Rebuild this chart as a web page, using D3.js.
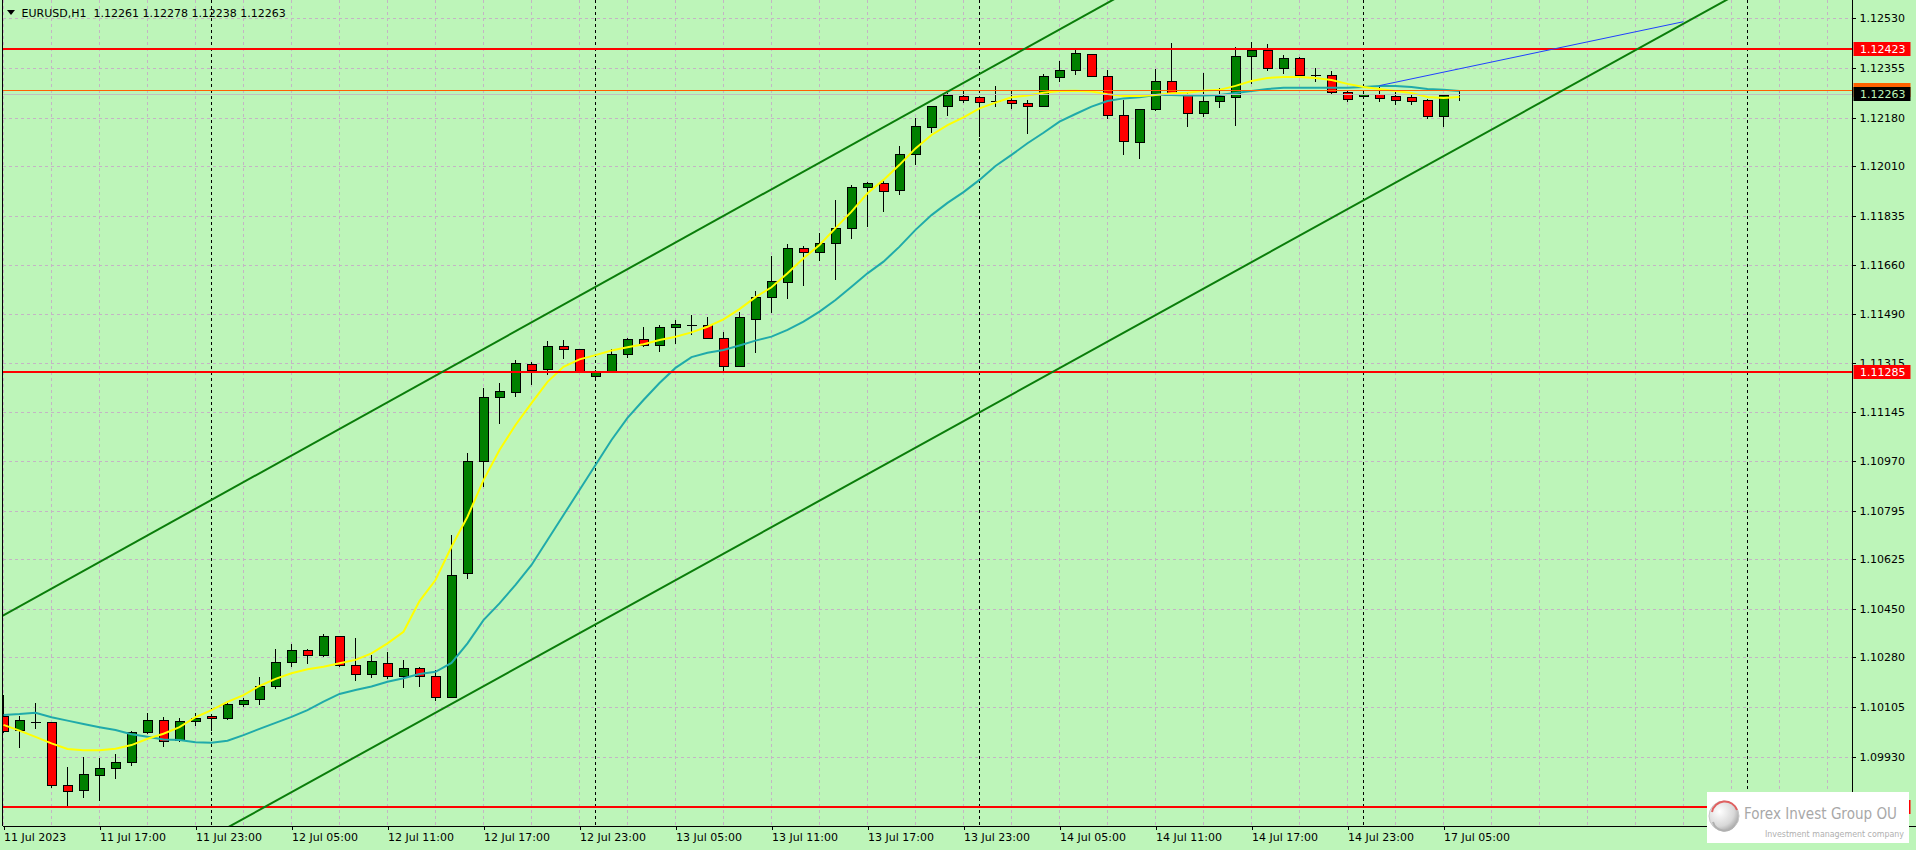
<!DOCTYPE html>
<html><head><meta charset="utf-8">
<script src="https://cdn.jsdelivr.net/npm/d3@7"></script>
<style>
html,body{margin:0;padding:0;background:#bdf5b9;overflow:hidden}
svg{display:block}
text{font-family:"DejaVu Sans",Verdana,sans-serif}
</style></head><body>
<svg id="c" width="1916" height="850"></svg>
<script>
// ---------- data ----------
const symbol = "EURUSD,H1";
const days = [["11 Jul",11,23],["12 Jul",0,23],["13 Jul",0,23],["14 Jul",0,23],["17 Jul",0,23],["18 Jul",0,8]];
const opens = [1.10073,1.10023,1.10053,1.10051,1.09827,1.09810,1.09865,1.09889,1.09910,1.10016,
1.10058,1.09986,1.10055,1.10072,1.10065,1.10115,1.10132,1.10178,1.10262,1.10305,
1.10286,1.10354,1.10252,1.10220,1.10259,1.10213,1.10241,1.10213,1.10139,1.10576,
1.10970,1.11196,1.11213,1.11312,1.11293,1.11375,1.11364,1.11269,1.11285,1.11347,
1.11400,1.11379,1.11442,1.11451,1.11449,1.11403,1.11303,1.11470,1.11548,1.11600,
1.11720,1.11706,1.11738,1.11791,1.11935,1.11948,1.11924,1.12051,1.12146,1.12220,
1.12255,1.12252,1.12239,1.12241,1.12231,1.12220,1.12322,1.12347,1.12403,1.12326,
1.12188,1.12093,1.12208,1.12308,1.12262,1.12194,1.12238,1.12252,1.12395,1.12418,
1.12352,1.12388,1.12332,1.12330,1.12270,1.12255,1.12262,1.12255,1.12250,1.12240,
1.12183,1.12261];
const highs = [1.10147,1.10073,1.10120,1.10053,1.09894,1.09930,1.09925,1.09940,1.10021,1.10084,
1.10069,1.10065,1.10084,1.10072,1.10118,1.10136,1.10210,1.10308,1.10327,1.10310,
1.10362,1.10354,1.10347,1.10289,1.10298,1.10271,1.10245,1.10236,1.10711,1.10998,
1.11227,1.11245,1.11327,1.11320,1.11393,1.11396,1.11366,1.11292,1.11366,1.11405,
1.11442,1.11449,1.11467,1.11484,1.11477,1.11424,1.11495,1.11569,1.11693,1.11735,
1.11729,1.11773,1.11890,1.11942,1.11954,1.11961,1.12079,1.12178,1.12222,1.12266,
1.12275,1.12255,1.12292,1.12278,1.12242,1.12333,1.12379,1.12422,1.12405,1.12347,
1.12241,1.12212,1.12351,1.12442,1.12270,1.12338,1.12285,1.12430,1.12445,1.12440,
1.12400,1.12395,1.12355,1.12345,1.12275,1.12275,1.12290,1.12270,1.12262,1.12245,
1.12265,1.12278];
const lows = [1.10015,1.09962,1.10028,1.09821,1.09756,1.09785,1.09774,1.09853,1.09898,1.10009,
1.09965,1.09981,1.10038,1.10021,1.10060,1.10104,1.10113,1.10169,1.10245,1.10257,
1.10282,1.10247,1.10198,1.10207,1.10204,1.10173,1.10177,1.10127,1.10135,1.10555,
1.10881,1.11100,1.11198,1.11240,1.11273,1.11329,1.11281,1.11262,1.11280,1.11335,
1.11372,1.11356,1.11384,1.11416,1.11400,1.11289,1.11302,1.11353,1.11493,1.11543,
1.11588,1.11675,1.11609,1.11754,1.11796,1.11849,1.11909,1.12013,1.12125,1.12187,
1.12233,1.12113,1.12219,1.12211,1.12124,1.12217,1.12305,1.12329,1.12322,1.12176,
1.12050,1.12034,1.12205,1.12258,1.12148,1.12183,1.12215,1.12150,1.12300,1.12345,
1.12335,1.12320,1.12305,1.12262,1.12236,1.12245,1.12236,1.12225,1.12226,1.12175,
1.12148,1.12238];
const closes = [1.10018,1.10056,1.10053,1.09828,1.09807,1.09866,1.09889,1.09910,1.10016,1.10058,
1.09984,1.10055,1.10063,1.10065,1.10115,1.10129,1.10178,1.10262,1.10305,1.10286,
1.10354,1.10252,1.10220,1.10266,1.10213,1.10241,1.10213,1.10139,1.10569,1.10970,
1.11196,1.11217,1.11315,1.11291,1.11375,1.11364,1.11288,1.11286,1.11347,1.11400,
1.11379,1.11442,1.11453,1.11451,1.11403,1.11305,1.11477,1.11548,1.11604,1.11720,
1.11706,1.11738,1.11791,1.11935,1.11948,1.11921,1.12051,1.12150,1.12220,1.12259,
1.12241,1.12234,1.12239,1.12231,1.12220,1.12326,1.12347,1.12407,1.12326,1.12187,
1.12097,1.12210,1.12308,1.12262,1.12194,1.12238,1.12255,1.12395,1.12418,1.12352,
1.12388,1.12330,1.12330,1.12270,1.12245,1.12262,1.12248,1.12242,1.12236,1.12183,
1.12258,1.12263];
const maFast = [1.10042,1.10022,1.10000,1.09977,1.09957,1.09953,1.09953,1.09958,1.09971,1.09993,
1.10011,1.10034,1.10069,1.10094,1.10123,1.10147,1.10179,1.10204,1.10224,1.10238,
1.10247,1.10259,1.10271,1.10294,1.10329,1.10370,1.10478,1.10552,1.10669,1.10775,
1.10904,1.11010,1.11098,1.11175,1.11250,1.11303,1.11329,1.11344,1.11360,1.11372,
1.11382,1.11397,1.11409,1.11424,1.11444,1.11470,1.11506,1.11548,1.11583,1.11632,
1.11685,1.11732,1.11791,1.11849,1.11914,1.11961,1.12014,1.12072,1.12119,1.12154,
1.12181,1.12213,1.12233,1.12252,1.12258,1.12268,1.12274,1.12275,1.12272,1.12263,
1.12256,1.12256,1.12260,1.12266,1.12268,1.12275,1.12278,1.12292,1.12309,1.12320,
1.12323,1.12323,1.12320,1.12313,1.12299,1.12288,1.12281,1.12274,1.12267,1.12253,
1.12249,1.12253];
const maSlow = [1.10077,1.10080,1.10085,1.10069,1.10057,1.10045,1.10034,1.10024,1.10009,1.10000,
1.09991,1.09989,1.09981,1.09979,1.09986,1.10006,1.10028,1.10049,1.10070,1.10094,
1.10124,1.10151,1.10165,1.10177,1.10194,1.10206,1.10221,1.10229,1.10260,1.10329,
1.10411,1.10470,1.10535,1.10605,1.10693,1.10781,1.10869,1.10957,1.11045,1.11123,
1.11186,1.11246,1.11299,1.11337,1.11352,1.11362,1.11378,1.11395,1.11409,1.11433,
1.11462,1.11497,1.11538,1.11585,1.11632,1.11673,1.11726,1.11785,1.11837,1.11880,
1.11918,1.11961,1.12010,1.12049,1.12090,1.12127,1.12166,1.12193,1.12219,1.12239,
1.12248,1.12252,1.12260,1.12260,1.12258,1.12258,1.12260,1.12267,1.12274,1.12281,
1.12285,1.12285,1.12285,1.12285,1.12285,1.12288,1.12292,1.12292,1.12288,1.12281,
1.12278,1.12274];
const yTicks = [1.12530,1.12355,1.12180,1.12010,1.11835,1.11660,1.11490,1.11315,1.11145,1.10970,1.10795,1.10625,1.10450,1.10280,1.10105,1.09930];
const xTickCats = ["11 Jul 11:00","11 Jul 17:00","11 Jul 23:00","12 Jul 05:00","12 Jul 11:00","12 Jul 17:00","12 Jul 23:00","13 Jul 05:00","13 Jul 11:00","13 Jul 17:00","13 Jul 23:00","14 Jul 05:00","14 Jul 11:00","14 Jul 17:00","14 Jul 23:00","17 Jul 05:00"];
const xTickText = ["11 Jul 2023","11 Jul 17:00","11 Jul 23:00","12 Jul 05:00","12 Jul 11:00","12 Jul 17:00","12 Jul 23:00","13 Jul 05:00","13 Jul 11:00","13 Jul 17:00","13 Jul 23:00","14 Jul 05:00","14 Jul 11:00","14 Jul 17:00","14 Jul 23:00","17 Jul 05:00"];
const daySeparators = ["12 Jul 00:00","13 Jul 00:00","14 Jul 00:00","17 Jul 00:00","18 Jul 00:00"];
const redLevels = [1.12423,1.11285];
const hiddenRedLevel = 1.09754;   // its label lies under the logo
const askLevel = 1.12277;
const channelUpper = [["11 Jul 11:00",1.10428],["13 Jul 23:00",1.12303]];
const channelLower = [["12 Jul 14:00",1.10085],["17 Jul 00:00",1.11889]];
const blueTrend = [["17 Jul 01:00",1.12293],["17 Jul 20:00",1.12518]];

// ---------- setup ----------
const cats = [];
days.forEach(([d,h0,h1]) => { for (let h=h0; h<=h1; h++) cats.push(d+" "+String(h).padStart(2,"0")+":00"); });
const idx = c => cats.indexOf(c);
const W=1916, H=850, plotL=2.5, plotR=1852.5, plotB=826;
const BG="#bdf5b9";
const x = d3.scaleLinear().domain([0,1]).range([3.5,19.5]);
const y = d3.scaleLinear().domain([1.09686,1.125944]).range([plotB,0]);
const fmt = d3.format(".5f");
const last = opens.length-1;

const svg = d3.select("#c");
svg.append("rect").attr("width",W).attr("height",H).attr("fill",BG);
const defs = svg.append("defs");
defs.append("clipPath").attr("id","plot").append("rect")
  .attr("x",plotL).attr("y",0).attr("width",plotR-plotL).attr("height",plotB);
const g = svg.append("g").attr("clip-path","url(#plot)");

// grid
const gridC = "#c4b4c4";
g.append("g").selectAll("line").data(yTicks).join("line")
  .attr("x1",plotL).attr("x2",plotR)
  .attr("y1",d=>Math.round(y(d))+0.5).attr("y2",d=>Math.round(y(d))+0.5)
  .attr("stroke",gridC).attr("stroke-dasharray","3,3").attr("shape-rendering","crispEdges");
const xMax = x.invert(plotR);
g.append("g").selectAll("line").data(d3.range(0, xMax, 3)).join("line")
  .attr("x1",d=>x(d)).attr("x2",d=>x(d)).attr("y1",0).attr("y2",plotB)
  .attr("stroke",gridC).attr("stroke-dasharray","3,3").attr("shape-rendering","crispEdges");

// day separators
g.append("g").selectAll("line").data(daySeparators.map(idx)).join("line")
  .attr("x1",d=>x(d)).attr("x2",d=>x(d)).attr("y1",0).attr("y2",plotB)
  .attr("stroke","#000").attr("stroke-dasharray","3,3").attr("shape-rendering","crispEdges");

// candles
const bars = opens.map((o,i)=>({i,o,h:highs[i],l:lows[i],c:closes[i]}));
const cg = g.append("g").attr("shape-rendering","crispEdges");
cg.selectAll(".wick").data(bars).join("line").attr("class","wick")
  .attr("x1",d=>x(d.i)).attr("x2",d=>x(d.i)).attr("y1",d=>y(d.h)).attr("y2",d=>y(d.l))
  .attr("stroke","#000");
const isDoji = d => Math.abs(d.c-d.o) < 0.000025;
cg.selectAll(".body").data(bars.filter(d=>!isDoji(d))).join("rect").attr("class","body")
  .attr("x",d=>x(d.i)-4.5).attr("width",9)
  .attr("y",d=>y(Math.max(d.o,d.c)))
  .attr("height",d=>Math.max(1,y(Math.min(d.o,d.c))-y(Math.max(d.o,d.c))))
  .attr("fill",d=>d.c>d.o?"#008000":"#ff0000").attr("stroke","#000");
cg.selectAll(".doji").data(bars.filter(isDoji)).join("line").attr("class","doji")
  .attr("x1",d=>x(d.i)-5).attr("x2",d=>x(d.i)+5)
  .attr("y1",d=>Math.round(y(d.c))+0.5).attr("y2",d=>Math.round(y(d.c))+0.5)
  .attr("stroke","#000").attr("stroke-width",1.5);

// moving averages
const ln = d3.line().x((d,i)=>x(i)).y(d=>y(d));
g.append("path").datum(maSlow).attr("d",ln).attr("fill","none").attr("stroke","#20aaaa").attr("stroke-width",2);
g.append("path").datum(maFast).attr("d",ln).attr("fill","none").attr("stroke","#ffff00").attr("stroke-width",2);

// horizontal levels
g.append("line").attr("x1",plotL).attr("x2",plotR).attr("y1",Math.round(y(closes[last]))+0.5).attr("y2",Math.round(y(closes[last]))+0.5)
  .attr("stroke","#c0c0c0").attr("shape-rendering","crispEdges");
g.append("line").attr("x1",plotL).attr("x2",plotR).attr("y1",Math.round(y(askLevel))+0.5).attr("y2",Math.round(y(askLevel))+0.5)
  .attr("stroke","#ff6000").attr("shape-rendering","crispEdges");
g.append("g").selectAll("line").data(redLevels.concat([hiddenRedLevel])).join("line")
  .attr("x1",plotL).attr("x2",plotR).attr("y1",d=>Math.round(y(d))).attr("y2",d=>Math.round(y(d)))
  .attr("stroke","#ff0000").attr("stroke-width",2).attr("shape-rendering","crispEdges");

// trend lines
function ray(a, color, w, extend){
  const i1=idx(a[0][0]), p1=a[0][1], i2=idx(a[1][0]), p2=a[1][1];
  const s=(p2-p1)/(i2-i1);
  const ia = extend ? -1 : i1, ib = extend ? xMax+1 : i2;
  g.append("line").attr("x1",x(ia)).attr("y1",y(p1+s*(ia-i1)))
    .attr("x2",x(ib)).attr("y2",y(p1+s*(ib-i1)))
    .attr("stroke",color).attr("stroke-width",w);
}
ray(channelUpper,"#0a7d0a",2,true);
ray(channelLower,"#0a7d0a",2,true);
ray(blueTrend,"#2040ff",1,false);

// frame
svg.append("line").attr("x1",plotL).attr("x2",plotL).attr("y1",0).attr("y2",plotB).attr("stroke","#000").attr("shape-rendering","crispEdges");
svg.append("line").attr("x1",plotL).attr("x2",W).attr("y1",plotB+0.5).attr("y2",plotB+0.5).attr("stroke","#000").attr("shape-rendering","crispEdges");
svg.append("line").attr("x1",plotR).attr("x2",plotR).attr("y1",0).attr("y2",plotB).attr("stroke","#000").attr("shape-rendering","crispEdges");

// y axis
const yAxis = d3.axisRight(y).tickValues(yTicks).tickFormat(fmt).tickSize(3).tickPadding(4);
const ya = svg.append("g").attr("transform",`translate(${plotR},0)`).call(yAxis);
ya.select(".domain").remove();
ya.selectAll("line").attr("stroke","#000").attr("shape-rendering","crispEdges");
ya.selectAll("text").attr("font-family","DejaVu Sans").attr("font-size",11).attr("fill","#000");

// x axis
const xAxis = d3.axisBottom(x).tickValues(xTickCats.map(idx)).tickFormat((d,k)=>xTickText[k]).tickSize(3).tickPadding(4);
const xa = svg.append("g").attr("transform",`translate(0,${plotB+0.5})`).call(xAxis);
xa.select(".domain").remove();
xa.selectAll("line").attr("stroke","#000").attr("shape-rendering","crispEdges");
xa.selectAll("text").attr("text-anchor","start").attr("dx",0)
  .attr("font-family","'DejaVu Sans Condensed','Liberation Sans Narrow','Liberation Sans',sans-serif")
  .attr("font-size",11).attr("fill","#000");

// price tags on right axis
function tag(p, fill, txt, txtColor){
  const yy = Math.round(y(p));
  svg.append("rect").attr("x",plotR+1).attr("y",yy-7).attr("width",57).attr("height",14).attr("fill",fill);
  if (txt) svg.append("text").attr("x",plotR+7.5).attr("y",yy+4).attr("font-size",11).attr("fill",txtColor).text(txt);
}
tag(hiddenRedLevel,"#ff0000",null);
redLevels.forEach(p=>tag(p,"#ff0000",fmt(p),"#ffffff"));
tag(askLevel,"#ff6000",null);
tag(closes[last],"#000000",fmt(closes[last]),BG);

// title
svg.append("path").attr("d","M7,10 L15,10 L11,15 Z").attr("fill","#000");
svg.append("text").attr("x",21.5).attr("y",17).attr("font-size",11).attr("fill","#000")
  .style("white-space","pre")
  .text(`${symbol}  ${fmt(opens[last])} ${fmt(highs[last])} ${fmt(lows[last])} ${fmt(closes[last])}`);

// logo
const lg = svg.append("g");
lg.append("rect").attr("x",1707).attr("y",792).attr("width",202).attr("height",51).attr("fill","#ffffff");
const rg = defs.append("radialGradient").attr("id","orb").attr("cx","35%").attr("cy","35%").attr("r","70%");
rg.append("stop").attr("offset","0%").attr("stop-color","#ffffff");
rg.append("stop").attr("offset","70%").attr("stop-color","#d8d8d8");
rg.append("stop").attr("offset","100%").attr("stop-color","#a8a8a8");
lg.append("circle").attr("cx",1724).attr("cy",816).attr("r",15).attr("fill","url(#orb)").attr("stroke","#c8c8c8");
lg.append("path").attr("d","M1712,812 A13,13 0 0 1 1737,810").attr("fill","none").attr("stroke","#e06060").attr("stroke-width",2);
lg.append("path").attr("d","M1713,822 A12,12 0 0 0 1734,826").attr("fill","none").attr("stroke","#b0b0b0").attr("stroke-width",2);
lg.append("text").attr("x",1744).attr("y",819).attr("font-size",15)
  .attr("textLength",153).attr("lengthAdjust","spacingAndGlyphs")
  .attr("font-family","'DejaVu Sans Condensed','Liberation Sans Narrow',sans-serif").attr("fill","#a8a8a8")
  .text("Forex Invest Group OU");
lg.append("text").attr("x",1765).attr("y",837).attr("font-size",8.5)
  .attr("textLength",139).attr("lengthAdjust","spacingAndGlyphs")
  .attr("font-family","'DejaVu Sans','Liberation Sans',sans-serif").attr("fill","#b0b0b0")
  .text("Investment management company");
</script>
</body></html>
